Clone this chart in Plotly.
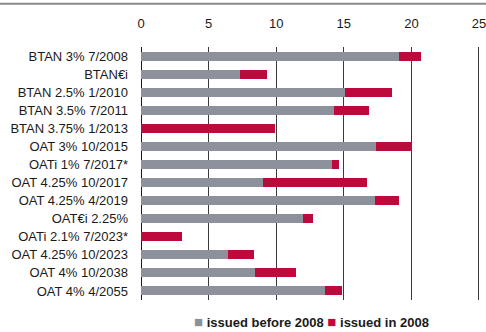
import plotly.graph_objects as go

categories = [
    "BTAN 3% 7/2008", "BTAN€i", "BTAN 2.5% 1/2010", "BTAN 3.5% 7/2011",
    "BTAN 3.75% 1/2013", "OAT 3% 10/2015", "OATi 1% 7/2017*",
    "OAT 4.25% 10/2017", "OAT 4.25% 4/2019", "OAT€i 2.25%",
    "OATi 2.1% 7/2023*", "OAT 4.25% 10/2023", "OAT 4% 10/2038", "OAT 4% 4/2055",
]
before_2008 = [19.1, 7.3, 15.1, 14.3, 0.0, 17.4, 14.1, 9.0, 17.3, 12.0, 0.0, 6.4, 8.4, 13.6]
in_2008 = [1.6, 2.0, 3.5, 2.55, 9.93, 2.62, 0.52, 7.68, 1.77, 0.7, 3.04, 1.97, 3.08, 1.3]
tick_vals = [0, 5, 10, 15, 20, 25]

GRAY = "#8d919c"
RED = "#bd0a3c"
FONT = "Liberation Sans, Arial, sans-serif"

fig = go.Figure()
fig.add_trace(go.Bar(y=categories, x=before_2008, orientation="h",
                     name="issued before 2008", marker=dict(color=GRAY, line=dict(width=0))))
fig.add_trace(go.Bar(y=categories, x=in_2008, orientation="h",
                     name="issued in 2008", marker=dict(color=RED, line=dict(width=0))))

fig.update_layout(
    width=486, height=332,
    margin=dict(l=140.5, r=5, t=46.5, b=32.3, pad=0),
    barmode="stack", bargap=0.5,
    showlegend=False,
    plot_bgcolor="white", paper_bgcolor="white",
    font=dict(family=FONT, size=13, color="#1a1a1a"),
    xaxis=dict(side="top", range=[0, 25.15], tickvals=tick_vals,
               showgrid=True, gridcolor="#3a3a3a", gridwidth=1,
               zeroline=True, zerolinecolor="#1a1a1a", zerolinewidth=1,
               showline=False, ticks="", ticklabelstandoff=15,
               automargin=False, ticklabeloverflow="allow",
               tickfont=dict(size=13, color="#1a1a1a"), fixedrange=True),
    yaxis=dict(categoryorder="array", categoryarray=categories, autorange="reversed",
               showgrid=False, zeroline=False, showline=False, ticks="",
               automargin=False,
               ticklabelstandoff=12, tickfont=dict(size=13, color="#1a1a1a")),
)

fig.add_shape(type="line", xref="paper", yref="paper",
              x0=-0.42, x1=1.03, y0=1.1713, y1=1.1713,
              line=dict(color="#8a8a8a", width=2))

fig.add_annotation(
    xref="paper", yref="paper", x=0.5, y=-0.085, xanchor="center", yanchor="middle",
    showarrow=False, font=dict(family=FONT, size=13, color="#1a1a1a"),
    text=(f"<b><span style='color:{GRAY};font-size:15px'>■</span> issued before 2008 "
          f"<span style='color:{RED};font-size:15px'>■</span> issued in 2008</b>"),
)

fig.write_html("out.html")
